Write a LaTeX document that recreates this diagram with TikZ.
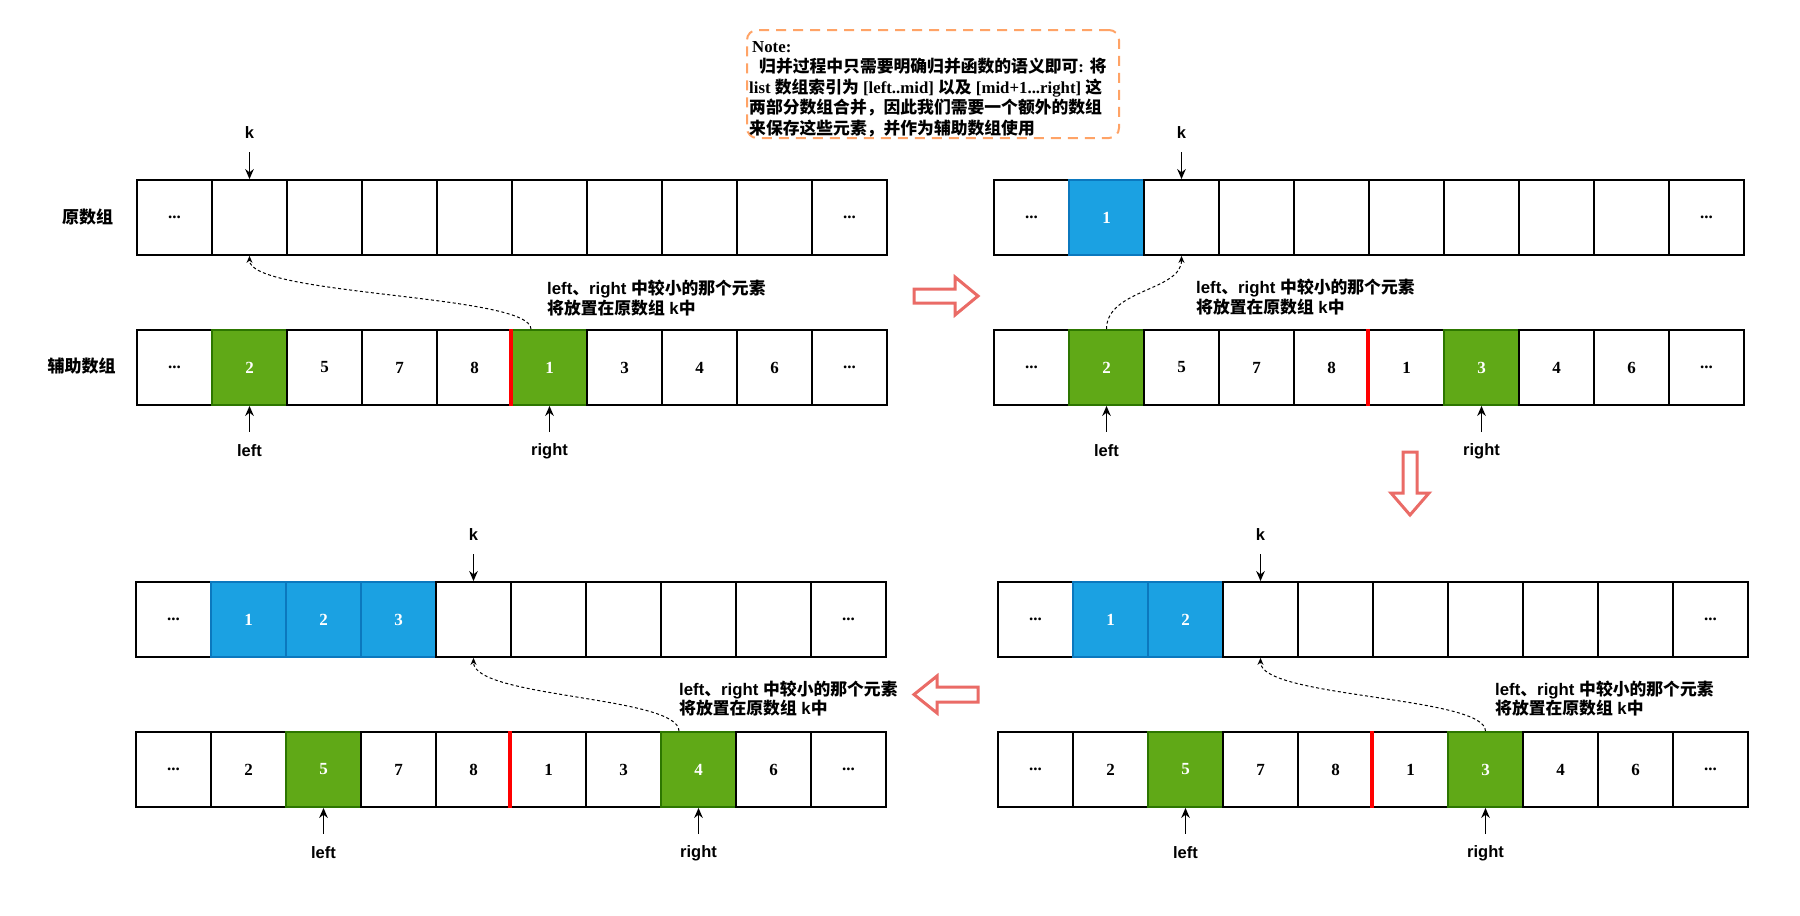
\documentclass[tikz,border=0pt]{standalone}
\usepackage{fontspec}
\setmainfont{Liberation Serif}
\newfontfamily\lsans{Liberation Sans}
\newfontfamily\cjk{Noto Sans CJK SC}
\usetikzlibrary{arrows.meta}

\definecolor{bluefill}{HTML}{1BA1E2}
\definecolor{bluedraw}{HTML}{0B78BE}
\definecolor{greenfill}{HTML}{60A917}
\definecolor{greendraw}{HTML}{2D7600}
\definecolor{blockred}{HTML}{EA6B66}
\definecolor{noteorange}{HTML}{FFA366}

\newcommand\celldots{...}

\tikzset{
  cell/.style={draw=black, line width=1.8pt, minimum width=75pt, minimum height=75pt,
    inner sep=0pt, font=\fontsize{17}{17}\selectfont\bfseries, text=black},
  plain/.style={},
  bluec/.style={fill=bluefill, draw=bluedraw, text=white},
  greenc/.style={fill=greenfill, draw=greendraw, text=white},
  ptrlabel/.style={font=\lsans\bfseries\fontsize{16.5}{18}\selectfont, inner sep=0pt},
  ptr/.style={-{Stealth[length=10pt,width=8.5pt]}, line width=1.7pt},
  flow/.style={-{Stealth[length=7pt,width=6pt]}, line width=1pt, dash pattern=on 3pt off 2.5pt},
  sep/.style={draw=red, line width=3.5pt},
  blockarrow/.style={draw=blockred, fill=white, line width=3pt, line join=miter},
  explain/.style={font=\lsans\bfseries\fontsize{16.8}{19.5}\selectfont, align=left,
    anchor=base west, inner sep=0pt},
  rowlabel/.style={font=\cjk\bfseries\fontsize{17}{17}\selectfont, inner sep=0pt}
}

\newcommand\cellrow[4]{%
  \foreach \t/\s [count=\i from 0] in {#4} {\node[cell,\s] (#1\i) at ({#2+75*\i},#3) {\t};}}

\begin{document}
\begin{tikzpicture}[x=1pt,y=-1pt]
\fill[white] (0,0) rectangle (1800,916);
\useasboundingbox (0,0) rectangle (1800,916);

% ---------- note ----------
\node[draw=noteorange, dash pattern=on 10pt off 7pt, line width=2pt, rounded corners=10pt,
  minimum width=372pt, minimum height=108pt] (note) at (933,84) {};
\node[font=\bfseries\fontsize{16.8}{20.4}\selectfont, align=left, anchor=base west, inner sep=0pt]
  (notetext) at (749,134) {\hspace*{3pt}Note:\\
  \hspace*{10pt}{\cjk 归并过程中只需要明确归并函数的语义即可}: {\cjk 将}\\
  list {\cjk 数组索引为} [left..mid] {\cjk 以及} [mid+1...right] {\cjk 这}\\
  {\cjk 两部分数组合并，因此我们需要一个额外的数组}\\
  {\cjk 来保存这些元素，并作为辅助数组使用}};

% ---------- panel 1 ----------
\node[rowlabel] (lab1) at (87.5,216.7) {原数组};
\node[rowlabel] (lab2) at (81.7,366) {辅助数组};
\cellrow{p1t}{174.5}{217.5}{\celldots/plain,{}/plain,{}/plain,{}/plain,{}/plain,{}/plain,{}/plain,{}/plain,{}/plain,\celldots/plain}
\cellrow{p1b}{174.5}{367.5}{\celldots/plain,2/greenc,5/plain,7/plain,8/plain,1/greenc,3/plain,4/plain,6/plain,\celldots/plain}
\draw[sep] (p1b5.north west) -- (p1b5.south west);
\node[ptrlabel] (k1) at (249.5,133) {k};
\draw[ptr, shorten <=13pt] (k1.south) -- (p1t1.north);
\node[ptrlabel] (L1) at (249.5,451) {left};
\draw[ptr, shorten <=13pt] (L1.north) -- (p1b1.south);
\node[ptrlabel] (R1) at (549.5,451) {right};
\draw[ptr, shorten <=11pt] (R1.north) -- (p1b5.south);
\draw[flow] ([xshift=-18.5pt]p1b5.north) .. controls +(0,-35) and +(0,40) .. (p1t1.south);
\node[explain] (e1) at (547,314) {left{\cjk 、}right {\cjk 中较小的那个元素}\\{\cjk 将放置在原数组} k{\cjk 中}};

% ---------- panel 2 ----------
\cellrow{p2t}{1031.5}{217.5}{\celldots/plain,1/bluec,{}/plain,{}/plain,{}/plain,{}/plain,{}/plain,{}/plain,{}/plain,\celldots/plain}
\cellrow{p2b}{1031.5}{367.5}{\celldots/plain,2/greenc,5/plain,7/plain,8/plain,1/plain,3/greenc,4/plain,6/plain,\celldots/plain}
\draw[sep] (p2b5.north west) -- (p2b5.south west);
\node[ptrlabel] (k2) at (1181.5,133) {k};
\draw[ptr, shorten <=13pt] (k2.south) -- (p2t2.north);
\node[ptrlabel] (L2) at (1106.5,451) {left};
\draw[ptr, shorten <=13pt] (L2.north) -- (p2b1.south);
\node[ptrlabel] (R2) at (1481.5,451) {right};
\draw[ptr, shorten <=11pt] (R2.north) -- (p2b6.south);
\draw[flow] (p2b1.north) .. controls +(0,-40) and +(0,35) .. (p2t2.south);
\node[explain] (e2) at (1196,313) {left{\cjk 、}right {\cjk 中较小的那个元素}\\{\cjk 将放置在原数组} k{\cjk 中}};

% ---------- panel 3 ----------
\cellrow{p3t}{173.5}{619.5}{\celldots/plain,1/bluec,2/bluec,3/bluec,{}/plain,{}/plain,{}/plain,{}/plain,{}/plain,\celldots/plain}
\cellrow{p3b}{173.5}{769.5}{\celldots/plain,2/plain,5/greenc,7/plain,8/plain,1/plain,3/plain,4/greenc,6/plain,\celldots/plain}
\draw[sep] (p3b5.north west) -- (p3b5.south west);
\node[ptrlabel] (k3) at (473.5,535) {k};
\draw[ptr, shorten <=13pt] (k3.south) -- (p3t4.north);
\node[ptrlabel] (L3) at (323.5,853) {left};
\draw[ptr, shorten <=13pt] (L3.north) -- (p3b2.south);
\node[ptrlabel] (R3) at (698.5,853) {right};
\draw[ptr, shorten <=11pt] (R3.north) -- (p3b7.south);
\draw[flow] ([xshift=-19.5pt]p3b7.north) .. controls +(0,-35) and +(0,40) .. (p3t4.south);
\node[explain] (e3) at (679,714.5) {left{\cjk 、}right {\cjk 中较小的那个元素}\\{\cjk 将放置在原数组} k{\cjk 中}};

% ---------- panel 4 ----------
\cellrow{p4t}{1035.5}{619.5}{\celldots/plain,1/bluec,2/bluec,{}/plain,{}/plain,{}/plain,{}/plain,{}/plain,{}/plain,\celldots/plain}
\cellrow{p4b}{1035.5}{769.5}{\celldots/plain,2/plain,5/greenc,7/plain,8/plain,1/plain,3/greenc,4/plain,6/plain,\celldots/plain}
\draw[sep] (p4b5.north west) -- (p4b5.south west);
\node[ptrlabel] (k4) at (1260.5,535) {k};
\draw[ptr, shorten <=13pt] (k4.south) -- (p4t3.north);
\node[ptrlabel] (L4) at (1185.5,853) {left};
\draw[ptr, shorten <=13pt] (L4.north) -- (p4b2.south);
\node[ptrlabel] (R4) at (1485.5,853) {right};
\draw[ptr, shorten <=11pt] (R4.north) -- (p4b6.south);
\draw[flow] (p4b6.north) .. controls +(0,-35) and +(0,40) .. (p4t3.south);
\node[explain] (e4) at (1495,714.5) {left{\cjk 、}right {\cjk 中较小的那个元素}\\{\cjk 将放置在原数组} k{\cjk 中}};

% ---------- block arrows ----------
\draw[blockarrow] (914,289) -- (955,289) -- (955,277) -- (978,296) -- (955,315) -- (955,303) -- (914,303) -- cycle;
\draw[blockarrow] (1403,452) -- (1417,452) -- (1417,493) -- (1429,493) -- (1410,515) -- (1391,493) -- (1403,493) -- cycle;
\draw[blockarrow] (978,687) -- (937,687) -- (937,676) -- (914,694.5) -- (937,713) -- (937,702) -- (978,702) -- cycle;
\end{tikzpicture}
\end{document}
